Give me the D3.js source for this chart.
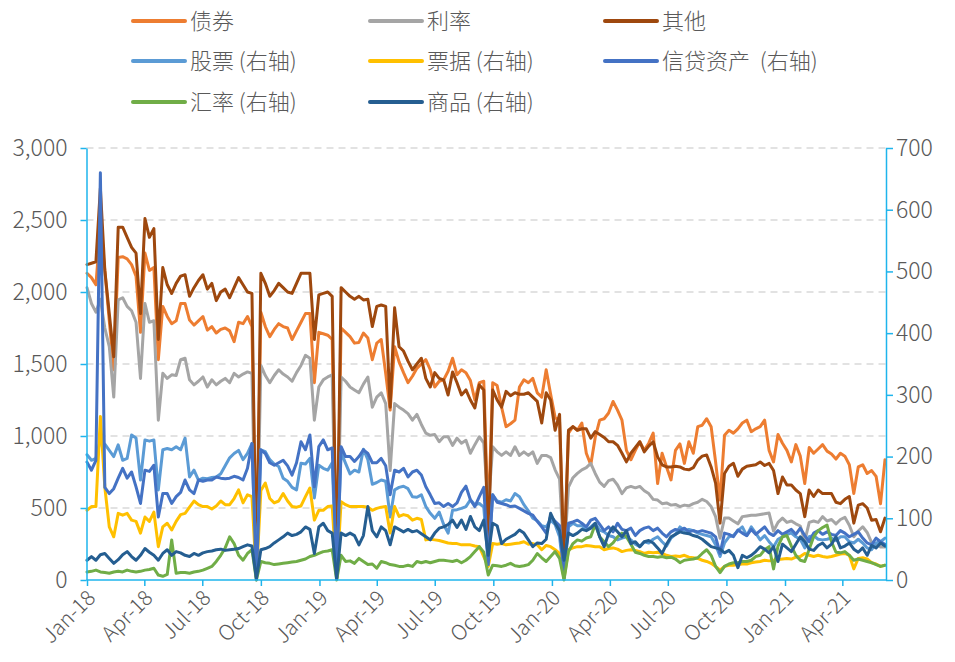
<!DOCTYPE html>
<html><head><meta charset="utf-8">
<script src="https://cdn.jsdelivr.net/npm/d3@7"></script>
<style>
body{margin:0;background:#fff}
svg text{font-family:"Noto Sans CJK SC","DejaVu Sans",sans-serif;font-weight:300;fill:#595959}
</style>
</head><body><svg id="c" width="955" height="662"></svg>
<script>
// ---------------- data ----------------
const seriesNames = ["债券","利率","其他","股票 (右轴)","票据 (右轴)","信贷资产  (右轴)","汇率 (右轴)","商品 (右轴)"];
const seriesColors = ["#ED7D31","#A5A5A5","#9E480E","#5B9BD5","#FFC000","#4472C4","#70AD47","#255E91"];
const leftTicks = [0,500,1000,1500,2000,2500,3000];
const rightTicks = [0,100,200,300,400,500,600,700];
const startDate = "2018-01-05";   // weekly observations
const tickMonthsStep = 3;

const bonds = [2130,2100,2050,2450,2150,1800,1460,2240,2245,2230,
 2190,2110,1720,2270,2150,2170,1530,1900,1830,1780,
 1800,1920,1920,1805,1770,1800,1830,1735,1760,1715,
 1740,1750,1730,1655,1790,1780,1830,1760,20,1860,
 1760,1690,1740,1780,1760,1750,1670,1730,1790,1850,
 1850,1370,1720,1710,1700,1670,10,1750,1720,1690,
 1645,1650,1715,1680,1530,1645,1670,1435,1180,1620,
 1515,1440,1370,1415,1470,1500,1530,1460,1340,1380,
 1390,1450,1540,1425,1460,1440,1385,1250,1370,1380,
 400,1370,1350,1200,1065,1085,1110,1340,1390,1370,
 1400,1300,1270,1460,1290,1130,1100,100,1020,1065,
 1040,1090,880,800,990,1110,1120,1160,1240,1180,
 1110,900,835,900,960,900,950,1020,670,880,
 785,695,900,945,810,960,880,1065,1075,1120,
 1065,820,555,1005,1040,1020,1050,1090,1110,1030,
 1050,1065,1110,900,820,1010,950,900,820,940,
 860,670,920,880,910,940,895,875,840,880,
 860,800,600,785,800,740,760,720,530,835];

const rates = [2030,1920,1860,1950,1750,1620,1270,1945,1960,1900,
 1870,1790,1400,1920,1790,1800,1110,1435,1400,1425,
 1420,1530,1540,1390,1355,1380,1410,1340,1390,1355,
 1380,1400,1370,1435,1410,1430,1445,1435,20,1490,
 1420,1370,1420,1460,1430,1410,1380,1440,1490,1560,
 1540,1110,1340,1390,1410,1425,10,1410,1380,1340,
 1320,1300,1360,1410,1200,1270,1300,1225,760,1225,
 1200,1180,1155,1110,1150,1080,1020,1005,1010,960,
 995,995,935,985,950,970,880,940,995,950,
 500,925,890,865,890,865,925,865,890,865,
 890,810,865,865,850,765,700,150,645,710,
 740,765,780,810,740,680,650,690,700,660,
 600,640,650,640,650,620,600,560,555,530,
 535,520,525,510,520,515,530,540,560,545,
 510,440,290,430,430,410,390,440,445,450,
 450,455,460,465,340,400,430,400,410,390,
 375,270,400,410,400,440,410,420,390,420,
 435,380,300,340,370,330,260,250,230,230];

const others = [2190,2200,2210,2720,2150,1850,1550,2450,2450,2380,
 2310,2270,1850,2510,2380,2440,1670,2170,2050,1990,
 2060,2110,2120,1970,2030,2080,2120,2020,2060,1940,
 2000,2020,1960,2030,2100,2050,2000,1990,20,2130,
 2060,1970,2010,2060,2030,2000,1990,2060,2130,2130,
 2130,1670,1980,1990,2000,1970,10,2030,2000,1970,
 1950,1970,1945,1950,1760,1900,1910,1900,1200,1890,
 1620,1590,1520,1460,1500,1540,1400,1340,1440,1400,
 1390,1285,1445,1370,1285,1320,1250,1195,1355,1320,
 200,1320,1250,1200,1310,1280,1300,1290,1290,1300,
 1270,1240,1090,1300,1250,1040,1150,100,1040,1065,
 1040,1050,1050,985,1030,1010,990,960,960,935,
 880,820,880,920,960,890,930,960,855,800,
 785,785,790,785,770,765,780,833,860,868,
 785,673,395,740,790,810,720,770,790,795,
 800,820,795,810,760,600,715,660,660,625,
 600,440,625,580,625,600,600,600,540,530,
 560,580,395,520,530,500,415,420,335,430];

const stocks = [203,194,197,227,220,210,200,219,194,197,
 235,230,162,227,225,227,146,211,213,211,
 216,211,230,167,178,162,165,164,166,167,
 172,185,198,205,210,195,205,221,5,211,
 208,195,188,184,165,160,150,146,189,188,
 197,133,186,181,178,190,5,207,189,172,
 178,175,212,195,155,158,162,160,102,146,
 150,152,148,135,134,138,119,108,100,110,
 90,76,113,114,116,119,130,122,124,118,
 25,138,128,126,130,128,140,135,122,112,
 100,96,88,86,97,90,70,5,86,92,
 88,88,81,86,92,81,78,72,70,65,
 68,70,65,58,54,62,60,66,70,62,
 55,68,74,86,80,82,80,76,74,72,
 70,57,38,60,70,72,80,86,72,86,
 76,65,72,62,54,66,70,74,76,70,
 66,52,70,72,66,65,66,68,64,70,
 70,62,60,66,60,52,49,60,62,68];

const bills = [113,119,119,265,150,86,70,108,105,108,
 97,95,76,102,95,110,54,86,92,81,
 95,106,108,118,128,122,119,119,115,120,
 128,122,122,132,146,125,138,135,3,145,
 157,132,125,128,140,128,119,118,120,135,
 149,97,113,113,119,120,3,127,122,119,
 119,119,119,118,113,116,118,119,76,119,
 103,106,104,97,100,98,65,66,65,64,
 62,60,59,59,57,57,57,55,54,38,
 22,59,58,59,57,58,59,60,62,58,
 59,57,49,56,54,49,43,3,49,52,
 54,54,56,55,54,54,49,51,52,50,
 46,48,49,48,46,43,45,44,45,43,
 40,38,39,38,40,37,36,35,32,30,
 27,22,16,22,24,24,25,26,26,28,
 29,30,32,31,32,33,34,35,34,37,
 38,43,40,38,40,38,37,38,40,42,
 43,40,18,35,36,34,28,26,22,24];

const credit = [191,178,194,660,150,140,148,165,181,165,
 175,151,124,178,176,186,102,140,140,124,
 135,142,162,146,140,162,160,162,162,167,
 165,164,165,168,166,162,181,221,0,211,
 205,190,186,190,194,185,170,190,224,211,
 235,151,216,227,211,214,3,216,200,200,
 192,200,211,205,190,190,197,185,138,178,
 175,181,167,175,178,170,151,138,124,125,
 119,124,119,125,142,152,130,119,135,150,
 25,138,126,124,122,119,120,116,112,108,
 105,95,86,76,104,95,88,3,92,94,
 97,92,86,97,100,90,80,86,78,92,
 82,80,84,72,80,84,86,80,84,76,
 70,78,82,80,84,78,80,78,80,78,
 76,70,43,76,74,70,81,76,72,82,
 74,80,86,76,72,80,74,78,82,74,
 84,72,62,76,80,74,78,74,72,80,
 76,70,74,78,68,60,57,68,62,58];

const fx = [13,14,16,13,12,11,13,14,13,16,
 14,13,14,16,17,19,8,6,9,65,
 11,12,12,11,13,14,16,19,22,30,
 40,52,70,59,40,32,43,49,0,30,
 28,27,25,26,27,28,29,30,32,34,
 38,40,43,46,47,49,0,40,30,31,
 27,35,30,25,26,19,30,28,25,24,
 22,22,24,22,30,28,30,28,30,32,
 32,31,30,32,28,32,38,46,54,45,
 8,24,23,22,24,27,23,22,23,25,
 32,43,36,30,38,46,35,0,46,59,
 65,63,68,70,90,70,62,54,60,70,
 76,70,58,45,43,40,38,38,37,38,
 36,37,34,28,32,33,34,36,43,49,
 40,22,12,22,26,28,28,30,30,32,
 38,40,49,54,18,55,70,72,55,40,
 32,30,50,70,80,85,89,62,45,44,
 46,40,32,34,32,30,28,25,22,24];

const commodities = [32,38,32,41,43,35,27,33,41,46,
 38,32,40,51,45,40,32,43,49,40,
 46,44,40,38,43,40,44,46,47,49,
 50,48,49,50,51,54,57,55,2,49,
 51,54,60,65,70,76,72,74,78,86,
 82,43,86,92,80,76,2,76,72,76,
 72,57,72,119,80,70,86,80,57,86,
 82,78,82,78,80,75,70,65,76,84,
 86,90,97,85,97,82,103,86,80,97,
 40,92,88,59,66,70,74,81,76,65,
 54,60,59,66,108,92,80,32,76,72,
 76,82,80,84,92,70,54,75,86,78,
 70,80,59,62,54,62,64,60,52,43,
 58,70,74,78,76,75,72,70,66,60,
 54,52,50,44,48,40,20,40,36,40,
 46,54,50,44,54,30,58,52,46,58,
 70,62,50,48,56,60,52,58,70,52,
 55,60,50,45,52,40,56,52,60,55];

// ---------------- chart ----------------
const svg = d3.select("#c");
const axisColor = "#1EB4EC";
const PL = 86.5, PR = 886, PT = 148, PB = 580;

const t0 = d3.timeParse("%Y-%m-%d")(startDate);
const dates = d3.range(others.length).map(i => d3.timeDay.offset(t0, 7 * i));
const x = d3.scaleTime().domain([dates[0], dates[dates.length - 1]]).range([87, 885]);
const yL = d3.scaleLinear().domain([0, 3000]).range([PB, PT]);
const yR = d3.scaleLinear().domain([0, 700]).range([PB, PT]);

// gridlines
svg.append("g").selectAll("line").data(leftTicks.filter(d => d > 0)).join("line")
  .attr("x1", PL).attr("x2", PR).attr("y1", d => yL(d)).attr("y2", d => yL(d))
  .attr("stroke", "#D9D9D9").attr("stroke-width", 1.3).attr("stroke-dasharray", "7,5");

// series
const allSeries = [
  {v: bonds, y: yL}, {v: rates, y: yL}, {v: others, y: yL},
  {v: stocks, y: yR}, {v: bills, y: yR}, {v: credit, y: yR}, {v: fx, y: yR}, {v: commodities, y: yR}
];
allSeries.forEach((s, k) => {
  const line = d3.line().x((d, i) => x(dates[i])).y(d => s.y(d));
  svg.append("path").datum(s.v).attr("d", line)
    .attr("fill", "none").attr("stroke", seriesColors[k])
    .attr("stroke-width", 3).attr("stroke-linejoin", "round").attr("stroke-linecap", "round");
});

// axes
function styleAxis(g) {
  g.select(".domain").attr("stroke", axisColor).attr("stroke-width", 1.5);
  g.selectAll(".tick line").attr("stroke", axisColor).attr("stroke-width", 1.5);
  g.selectAll("text").attr("fill", "#595959");
}
const gL = svg.append("g").attr("transform", `translate(${PL},0)`)
  .call(d3.axisLeft(yL).tickValues(leftTicks).tickSize(6).tickSizeOuter(0).tickPadding(13).tickFormat(d3.format(",")));
gL.selectAll("text").attr("font-size", 23);
styleAxis(gL);

const gR = svg.append("g").attr("transform", `translate(${PR},0)`)
  .call(d3.axisRight(yR).tickValues(rightTicks).tickSize(7).tickSizeOuter(0).tickPadding(3).tickFormat(d3.format("d")));
gR.selectAll("text").attr("font-size", 23);
styleAxis(gR);

const tickDates = d3.range(0, 14).map(k => d3.timeMonth.offset(t0, tickMonthsStep * k));
const gB = svg.append("g").attr("transform", `translate(0,${PB})`)
  .call(d3.axisBottom(x).tickValues(tickDates).tickSize(6).tickSizeOuter(0).tickFormat(d3.timeFormat("%b-%y")));
gB.select(".domain").attr("d", `M${PL},0H${PR}`);
gB.selectAll("text").attr("font-size", 21).attr("text-anchor", "end")
  .attr("x", 0).attr("y", 0).attr("dy", "0.35em")
  .attr("transform", "translate(4,14) rotate(-45)");
styleAxis(gB);

// legend
const colX = [133, 370, 605], rowY = [21, 61, 102];
const lg = svg.append("g").attr("class", "legend");
seriesNames.forEach((n, k) => {
  const cx = colX[k % 3], cy = rowY[Math.floor(k / 3)];
  lg.append("line").attr("x1", cx).attr("x2", cx + 52).attr("y1", cy).attr("y2", cy)
    .attr("stroke", seriesColors[k]).attr("stroke-width", 4).attr("stroke-linecap", "round");
  lg.append("text").attr("x", cx + 57).attr("y", cy).attr("dy", "0.36em")
    .attr("font-size", 22).attr("xml:space", "preserve").style("white-space", "pre").text(n);
});
</script></body></html>
